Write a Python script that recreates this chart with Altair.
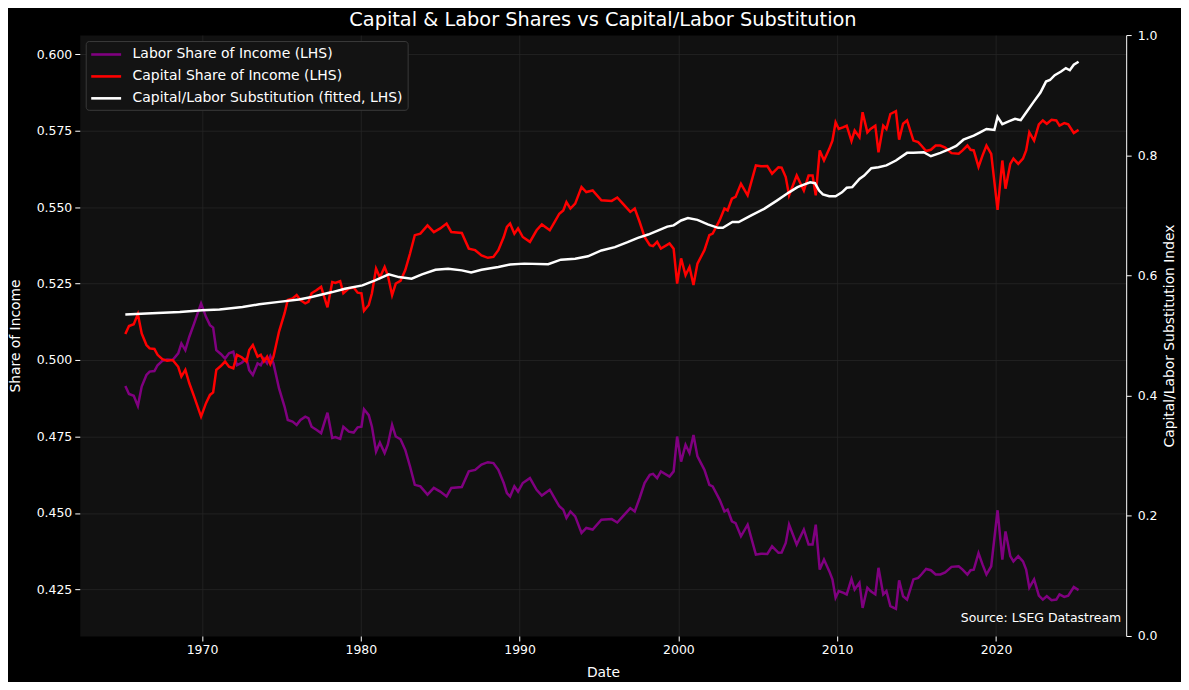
import altair as alt
import pandas as pd

TITLE = "Capital & Labor Shares vs Capital/Labor Substitution"
LAB = "Labor Share of Income (LHS)"
CAP = "Capital Share of Income (LHS)"
SUB = "Capital/Labor Substitution (fitted, LHS)"
SOURCE = "Source: LSEG Datastream"

# decimal-year dates shared by labor and capital share series
share_dates = [
    1965.17, 1965.4, 1965.7, 1965.96,
    1966.2, 1966.5, 1966.7,
    1967.0, 1967.2, 1967.5, 1967.8,
    1968.15, 1968.5, 1968.7, 1968.95,
    1969.2, 1969.5, 1969.94,
    1970.25, 1970.5, 1970.7, 1970.9,
    1971.2, 1971.45, 1971.7, 1971.97,
    1972.2, 1972.5, 1972.8, 1972.97,
    1973.2, 1973.5, 1973.7, 1973.9,
    1974.1, 1974.3, 1974.5, 1974.85,
    1975.2, 1975.4, 1975.7, 1975.96,
    1976.2, 1976.5, 1976.7, 1976.9,
    1977.2, 1977.5, 1977.9,
    1978.2, 1978.4, 1978.7, 1978.9,
    1979.25, 1979.55, 1979.8,
    1980.04, 1980.2, 1980.5, 1980.7, 1980.96,
    1981.2, 1981.5, 1981.7, 1981.97,
    1982.2, 1982.5, 1982.8,
    1983.1, 1983.4, 1983.75,
    1984.2, 1984.6,
    1985.0, 1985.4, 1985.7,
    1986.36, 1986.8,
    1987.2, 1987.6,
    1988.0, 1988.35, 1988.66,
    1989.0, 1989.2, 1989.4, 1989.67, 1989.9,
    1990.2, 1990.65,
    1991.07, 1991.4, 1991.9,
    1992.2, 1992.5, 1992.75, 1992.95,
    1993.2, 1993.5, 1993.9,
    1994.2, 1994.6,
    1995.15, 1995.8,
    1996.15, 1996.5, 1996.97,
    1997.25, 1997.56, 1997.87,
    1998.2, 1998.4, 1998.66, 1998.9,
    1999.44, 1999.7, 1999.92,
    2000.17, 2000.45, 2000.7, 2000.95,
    2001.2, 2001.64, 2001.95,
    2002.16, 2002.6, 2002.9,
    2003.1, 2003.37, 2003.6, 2003.94,
    2004.36, 2004.88,
    2005.2, 2005.6, 2005.9,
    2006.3, 2006.5, 2006.76, 2006.97,
    2007.45, 2007.9,
    2008.2, 2008.45, 2008.65, 2008.9,
    2009.17, 2009.5, 2009.7, 2009.9,
    2010.1, 2010.4, 2010.6, 2010.9,
    2011.1, 2011.4, 2011.6, 2011.9,
    2012.1, 2012.4, 2012.6, 2012.9,
    2013.1, 2013.35, 2013.7, 2013.9,
    2014.15, 2014.4, 2014.8,
    2015.1, 2015.3, 2015.6, 2015.9,
    2016.2, 2016.5, 2016.8,
    2017.2, 2017.65, 2017.9,
    2018.2, 2018.4, 2018.6, 2018.9,
    2019.15, 2019.4, 2019.7,
    2020.1, 2020.4, 2020.6, 2020.9,
    2021.1, 2021.4, 2021.7, 2021.9,
    2022.1, 2022.4, 2022.7, 2022.95,
    2023.2, 2023.5, 2023.8,
    2024.0, 2024.3, 2024.55, 2024.9,
    2025.2,
]

labor_share = [
    0.4915, 0.4889, 0.4883, 0.4850,
    0.4913, 0.4951, 0.4962,
    0.4964, 0.4983, 0.4997, 0.5002,
    0.5000, 0.5022, 0.5054, 0.5032,
    0.5076, 0.5119, 0.5185,
    0.5141, 0.5114, 0.5106, 0.5032,
    0.5019, 0.5005, 0.5022, 0.5027,
    0.4983, 0.4991, 0.5005, 0.4967,
    0.4951, 0.4989, 0.4983, 0.5005,
    0.4989, 0.5013, 0.4989, 0.4907,
    0.4847, 0.4804, 0.4799, 0.4788,
    0.4804, 0.4815, 0.4810, 0.4782,
    0.4772, 0.4761, 0.4828,
    0.4745, 0.4748, 0.4742, 0.4782,
    0.4766, 0.4763, 0.4780,
    0.4782, 0.4839, 0.4820, 0.4782, 0.4701,
    0.4730, 0.4696, 0.4723, 0.4788,
    0.4750, 0.4741, 0.4706,
    0.4652, 0.4592, 0.4587,
    0.4560, 0.4582,
    0.4570, 0.4554, 0.4582,
    0.4585, 0.4636,
    0.4641, 0.4658,
    0.4666, 0.4663, 0.4641,
    0.4598, 0.4565, 0.4554, 0.4587, 0.4570,
    0.4598, 0.4614,
    0.4576, 0.4557, 0.4576,
    0.4549, 0.4522, 0.4511, 0.4484,
    0.4505, 0.4489, 0.4435,
    0.4451, 0.4446,
    0.4478, 0.4480,
    0.4469, 0.4489, 0.4516,
    0.4505, 0.4549, 0.4598,
    0.4625, 0.4628, 0.4614, 0.4636,
    0.4619, 0.4636, 0.4750,
    0.4668, 0.4723, 0.4696, 0.4755,
    0.4685, 0.4641, 0.4592,
    0.4587, 0.4543, 0.4505,
    0.4511, 0.4473, 0.4467, 0.4424,
    0.4462, 0.4364,
    0.4367, 0.4366, 0.4391,
    0.4370, 0.4371, 0.4402, 0.4462,
    0.4397, 0.4446,
    0.4397, 0.4397, 0.4462, 0.4315,
    0.4348, 0.4310, 0.4283, 0.4223,
    0.4245, 0.4239, 0.4234, 0.4284,
    0.4250, 0.4272, 0.4190, 0.4256,
    0.4245, 0.4234, 0.4321, 0.4234,
    0.4245, 0.4196, 0.4187, 0.4280,
    0.4228, 0.4217, 0.4283,
    0.4288, 0.4299, 0.4317, 0.4313,
    0.4299, 0.4299, 0.4306,
    0.4324, 0.4326, 0.4315,
    0.4299, 0.4313, 0.4315, 0.4369,
    0.4332, 0.4299, 0.4326,
    0.4509, 0.4348, 0.4440, 0.4359,
    0.4342, 0.4359, 0.4342, 0.4315,
    0.4256, 0.4283, 0.4230, 0.4217,
    0.4228, 0.4215, 0.4217,
    0.4234, 0.4226, 0.4230, 0.4258,
    0.4248,
]

capital_share = [
    0.5085, 0.5111, 0.5117, 0.5150,
    0.5087, 0.5049, 0.5038,
    0.5036, 0.5017, 0.5003, 0.4998,
    0.5000, 0.4978, 0.4946, 0.4968,
    0.4924, 0.4881, 0.4815,
    0.4859, 0.4886, 0.4894, 0.4968,
    0.4981, 0.4995, 0.4978, 0.4973,
    0.5017, 0.5009, 0.4995, 0.5033,
    0.5049, 0.5011, 0.5017, 0.4995,
    0.5011, 0.4987, 0.5011, 0.5093,
    0.5153, 0.5196, 0.5201, 0.5212,
    0.5196, 0.5185, 0.5190, 0.5218,
    0.5228, 0.5239, 0.5172,
    0.5255, 0.5252, 0.5258, 0.5218,
    0.5234, 0.5237, 0.5220,
    0.5218, 0.5161, 0.5180, 0.5218, 0.5299,
    0.5270, 0.5304, 0.5277, 0.5212,
    0.5250, 0.5259, 0.5294,
    0.5348, 0.5408, 0.5413,
    0.5440, 0.5418,
    0.5430, 0.5446, 0.5418,
    0.5415, 0.5364,
    0.5359, 0.5342,
    0.5334, 0.5337, 0.5359,
    0.5402, 0.5435, 0.5446, 0.5413, 0.5430,
    0.5402, 0.5386,
    0.5424, 0.5443, 0.5424,
    0.5451, 0.5478, 0.5489, 0.5516,
    0.5495, 0.5511, 0.5565,
    0.5549, 0.5554,
    0.5522, 0.5520,
    0.5531, 0.5511, 0.5484,
    0.5495, 0.5451, 0.5402,
    0.5375, 0.5372, 0.5386, 0.5364,
    0.5381, 0.5364, 0.5250,
    0.5332, 0.5277, 0.5304, 0.5245,
    0.5315, 0.5359, 0.5408,
    0.5413, 0.5457, 0.5495,
    0.5489, 0.5527, 0.5533, 0.5576,
    0.5538, 0.5636,
    0.5633, 0.5634, 0.5609,
    0.5630, 0.5629, 0.5598, 0.5538,
    0.5603, 0.5554,
    0.5603, 0.5603, 0.5538, 0.5685,
    0.5652, 0.5690, 0.5717, 0.5777,
    0.5755, 0.5761, 0.5766, 0.5716,
    0.5750, 0.5728, 0.5810, 0.5744,
    0.5755, 0.5766, 0.5679, 0.5766,
    0.5755, 0.5804, 0.5813, 0.5720,
    0.5772, 0.5783, 0.5717,
    0.5712, 0.5701, 0.5683, 0.5687,
    0.5701, 0.5701, 0.5694,
    0.5676, 0.5674, 0.5685,
    0.5701, 0.5687, 0.5685, 0.5631,
    0.5668, 0.5701, 0.5674,
    0.5491, 0.5652, 0.5560, 0.5641,
    0.5658, 0.5641, 0.5658, 0.5685,
    0.5744, 0.5717, 0.5770, 0.5783,
    0.5772, 0.5785, 0.5783,
    0.5766, 0.5774, 0.5770, 0.5742,
    0.5752,
]

subst_dates = [
    1965.17, 1966.5, 1968.6, 1970.0, 1971.1, 1972.55, 1973.6, 1974.85, 1976.1, 1976.9,
    1978.2, 1979.0, 1980.1, 1980.9, 1981.76, 1982.4, 1983.2, 1983.85, 1984.7, 1985.5,
    1986.36, 1986.95, 1987.6, 1988.66, 1989.4, 1990.3, 1991.8, 1992.6, 1993.5, 1994.3,
    1995.15, 1996.0, 1996.8, 1997.45, 1998.1, 1998.7, 1999.3, 1999.7, 2000.17, 2000.6,
    2001.2, 2001.85, 2002.5, 2002.8, 2003.4, 2003.8, 2004.56, 2005.4, 2006.2, 2006.97,
    2007.5, 2007.9, 2008.3, 2008.6, 2008.86, 2009.1, 2009.5, 2009.9, 2010.3, 2010.6,
    2010.95, 2011.4, 2011.7, 2012.15, 2012.6, 2013.1, 2013.7, 2014.4, 2014.8, 2015.45,
    2015.9, 2016.5, 2017.1, 2017.5, 2017.95, 2018.6, 2019.0, 2019.4, 2019.9, 2020.1,
    2020.4, 2020.8, 2021.2, 2021.56, 2021.9, 2022.35, 2022.8, 2023.15, 2023.4, 2023.7,
    2024.1, 2024.4, 2024.65, 2024.9, 2025.2,
]
subst_fitted = [
    0.5149, 0.5152, 0.5157, 0.5163, 0.5165, 0.5173, 0.5182, 0.5190, 0.5198, 0.5206,
    0.5222, 0.5233, 0.5244, 0.5260, 0.5280, 0.5271, 0.5266, 0.5280, 0.5295, 0.5298,
    0.5293, 0.5286, 0.5295, 0.5304, 0.5312, 0.5315, 0.5313, 0.5328, 0.5331, 0.5339,
    0.5358, 0.5369, 0.5385, 0.5399, 0.5410, 0.5423, 0.5436, 0.5440, 0.5456, 0.5464,
    0.5458, 0.5443, 0.5432, 0.5432, 0.5451, 0.5451, 0.5472, 0.5494, 0.5521, 0.5548,
    0.5565, 0.5573, 0.5581, 0.5578, 0.5554, 0.5541, 0.5535, 0.5535, 0.5548, 0.5563,
    0.5565, 0.5592, 0.5603, 0.5627, 0.5630, 0.5636, 0.5652, 0.5677, 0.5677, 0.5679,
    0.5666, 0.5677, 0.5690, 0.5700, 0.5720, 0.5733, 0.5744, 0.5755, 0.5752, 0.5795,
    0.5771, 0.5780, 0.5788, 0.5784, 0.5809, 0.5842, 0.5874, 0.5910, 0.5915, 0.5931,
    0.5943, 0.5954, 0.5947, 0.5965, 0.5975,
]

year_ticks = [1970, 1980, 1990, 2000, 2010, 2020]
left_ticks = [0.425, 0.450, 0.475, 0.500, 0.525, 0.550, 0.575, 0.600]
right_ticks = [0.0, 0.2, 0.4, 0.6, 0.8, 1.0]
right_range = [0.0, 1.0]

FONT = "DejaVu Sans"


def frame(dates, values, name):
    return pd.DataFrame(
        [{"date": d, "value": v, "series": name} for d, v in zip(dates, values)]
    )


df_lab = frame(share_dates, labor_share, LAB)
df_cap = frame(share_dates, capital_share, CAP)
df_sub = frame(subst_dates, subst_fitted, SUB)

x_enc = alt.X(
    "date:Q",
    scale=alt.Scale(domain=[1962.3, 2028.2], nice=False, zero=False),
    axis=alt.Axis(values=year_ticks, format="d", title="Date", grid=True,
                  labelPadding=3, titlePadding=9),
)
y_enc = alt.Y(
    "value:Q",
    scale=alt.Scale(domain=[0.4098, 0.6062], nice=False, zero=False),
    axis=alt.Axis(values=left_ticks, format=".3f", title="Share of Income",
                  orient="left", grid=True, labelPadding=3, titlePadding=14),
)
color_enc = alt.Color(
    "series:N",
    scale=alt.Scale(domain=[LAB, CAP, SUB], range=["#800080", "#ff0000", "#ffffff"]),
    legend=alt.Legend(
        title=None, orient="top-left", offset=6,
        fillColor="#131313", strokeColor="#3a3a3a", cornerRadius=3, padding=4,
        labelColor="#ffffff", labelFontSize=14, labelFont=FONT, labelLimit=500,
        symbolType="M-1,0H2.75", symbolSize=256, symbolStrokeWidth=2.6,
        labelOffset=24, rowPadding=5,
    ),
)


def line_layer(df):
    return alt.Chart(df).mark_line(strokeWidth=2.5).encode(
        x=x_enc, y=y_enc, color=color_enc
    )


source_layer = alt.Chart(pd.DataFrame({"t": [SOURCE]})).mark_text(
    align="right", baseline="middle", fontSize=12.5, font=FONT, color="#ffffff"
).encode(text="t:N", x=alt.value(1045), y=alt.value(585))

inner = alt.layer(line_layer(df_lab), line_layer(df_cap), line_layer(df_sub), source_layer)

right_layer = alt.Chart(pd.DataFrame({"v": right_range})).mark_point(opacity=0).encode(
    y=alt.Y(
        "v:Q",
        scale=alt.Scale(domain=right_range, nice=False, zero=False),
        axis=alt.Axis(values=right_ticks, format=".1f", orient="right",
                      title="Capital/Labor Substitution Index", titleAngle=270,
                      grid=False, domain=True, domainColor="#ffffff", domainWidth=1,
                      labelPadding=6, titlePadding=20),
    )
)

chart = (
    alt.layer(inner, right_layer)
    .resolve_scale(y="independent")
    .properties(
        width=1050,
        height=603,
        background="#000000",
        padding={"left": 72, "top": 26, "right": 55, "bottom": 45},
        autosize=alt.AutoSizeParams(type="none"),
        title=alt.TitleParams(
            text=TITLE, fontSize=19.4, font=FONT, fontWeight="normal",
            color="#ffffff", anchor="middle", frame="group", offset=3, dy=4,
        ),
    )
    .configure_view(fill="#111111", stroke="transparent")
    .configure_axis(
        labelColor="#ffffff", titleColor="#ffffff", labelFont=FONT, titleFont=FONT,
        labelFontSize=12.5, titleFontSize=13.9, titleFontWeight="normal",
        tickColor="#ffffff", tickSize=5, tickWidth=1,
        domain=False, gridColor="#262626", gridWidth=0.8,
    )
)

chart.save("out.html", embed_options={"renderer": "svg", "actions": False})
